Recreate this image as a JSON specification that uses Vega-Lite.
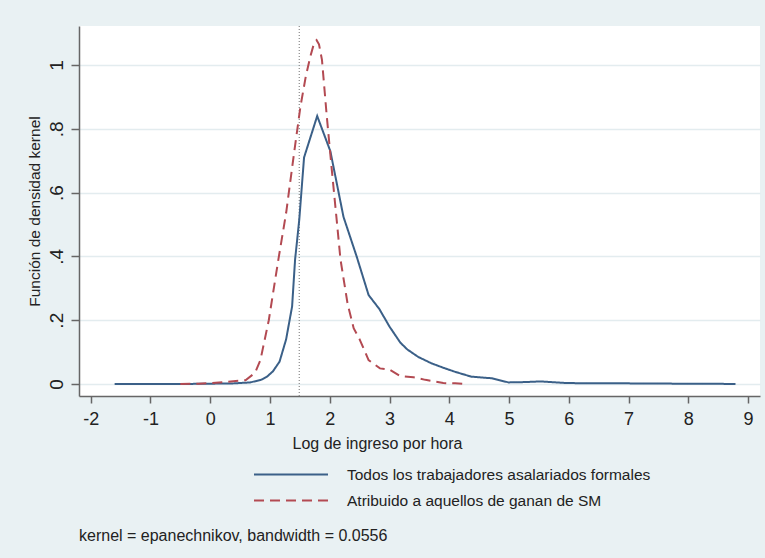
{
  "$schema": "https://vega.github.io/schema/vega-lite/v6.json",
  "width": 681,
  "height": 370,
  "autosize": {"type": "none"},
  "padding": {"left": 79, "top": 26, "right": 5, "bottom": 162},
  "background": "#e9f1f3",
  "config": {
    "view": {"fill": "white", "stroke": null},
    "font": "Liberation Sans",
    "axis": {
      "domainColor": "#666666",
      "domainWidth": 1.5,
      "tickColor": "#666666",
      "tickWidth": 1.5,
      "labelColor": "#222222",
      "titleColor": "#222222",
      "titleFontWeight": "normal",
      "labelFont": "Liberation Sans",
      "titleFont": "Liberation Sans"
    },
    "legend": {
      "orient": "none",
      "legendX": 174,
      "legendY": 435.5,
      "title": null,
      "symbolType": "stroke",
      "symbolSize": 5476,
      "symbolStrokeWidth": 2,
      "labelFontSize": 15.5,
      "labelFont": "Liberation Sans",
      "labelColor": "#222222",
      "labelOffset": 18,
      "labelLimit": 0,
      "clipHeight": 26,
      "rowPadding": 0,
      "padding": 0
    }
  },
  "title": {
    "text": "kernel = epanechnikov, bandwidth = 0.0556",
    "orient": "bottom",
    "anchor": "start",
    "frame": "group",
    "fontSize": 16,
    "fontWeight": "normal",
    "font": "Liberation Sans",
    "color": "#222222",
    "offset": 14
  },
  "datasets": {
    "densidades": [
      {"serie": "Todos los trabajadores asalariados formales", "x": -1.6, "y": 0},
      {"serie": "Todos los trabajadores asalariados formales", "x": -1.0, "y": 0},
      {"serie": "Todos los trabajadores asalariados formales", "x": -0.5, "y": 0},
      {"serie": "Todos los trabajadores asalariados formales", "x": 0.0, "y": 0.001},
      {"serie": "Todos los trabajadores asalariados formales", "x": 0.4, "y": 0.002},
      {"serie": "Todos los trabajadores asalariados formales", "x": 0.67, "y": 0.005},
      {"serie": "Todos los trabajadores asalariados formales", "x": 0.85, "y": 0.013},
      {"serie": "Todos los trabajadores asalariados formales", "x": 0.95, "y": 0.023},
      {"serie": "Todos los trabajadores asalariados formales", "x": 1.05, "y": 0.04},
      {"serie": "Todos los trabajadores asalariados formales", "x": 1.16, "y": 0.07},
      {"serie": "Todos los trabajadores asalariados formales", "x": 1.27, "y": 0.14},
      {"serie": "Todos los trabajadores asalariados formales", "x": 1.37, "y": 0.243},
      {"serie": "Todos los trabajadores asalariados formales", "x": 1.42, "y": 0.39},
      {"serie": "Todos los trabajadores asalariados formales", "x": 1.49, "y": 0.515},
      {"serie": "Todos los trabajadores asalariados formales", "x": 1.57, "y": 0.71},
      {"serie": "Todos los trabajadores asalariados formales", "x": 1.79, "y": 0.84},
      {"serie": "Todos los trabajadores asalariados formales", "x": 2.01, "y": 0.73},
      {"serie": "Todos los trabajadores asalariados formales", "x": 2.23, "y": 0.524},
      {"serie": "Todos los trabajadores asalariados formales", "x": 2.45, "y": 0.4},
      {"serie": "Todos los trabajadores asalariados formales", "x": 2.65, "y": 0.279},
      {"serie": "Todos los trabajadores asalariados formales", "x": 2.83, "y": 0.235},
      {"serie": "Todos los trabajadores asalariados formales", "x": 3.0, "y": 0.18},
      {"serie": "Todos los trabajadores asalariados formales", "x": 3.18, "y": 0.13},
      {"serie": "Todos los trabajadores asalariados formales", "x": 3.3, "y": 0.108},
      {"serie": "Todos los trabajadores asalariados formales", "x": 3.48, "y": 0.085},
      {"serie": "Todos los trabajadores asalariados formales", "x": 3.7, "y": 0.065},
      {"serie": "Todos los trabajadores asalariados formales", "x": 3.9, "y": 0.051},
      {"serie": "Todos los trabajadores asalariados formales", "x": 4.1, "y": 0.038},
      {"serie": "Todos los trabajadores asalariados formales", "x": 4.37, "y": 0.023},
      {"serie": "Todos los trabajadores asalariados formales", "x": 4.71, "y": 0.018},
      {"serie": "Todos los trabajadores asalariados formales", "x": 4.99, "y": 0.005},
      {"serie": "Todos los trabajadores asalariados formales", "x": 5.25, "y": 0.006},
      {"serie": "Todos los trabajadores asalariados formales", "x": 5.53, "y": 0.008},
      {"serie": "Todos los trabajadores asalariados formales", "x": 5.97, "y": 0.003},
      {"serie": "Todos los trabajadores asalariados formales", "x": 6.5, "y": 0.002},
      {"serie": "Todos los trabajadores asalariados formales", "x": 7.0, "y": 0.002},
      {"serie": "Todos los trabajadores asalariados formales", "x": 7.5, "y": 0.0015},
      {"serie": "Todos los trabajadores asalariados formales", "x": 7.87, "y": 0.001},
      {"serie": "Todos los trabajadores asalariados formales", "x": 8.3, "y": 0.001},
      {"serie": "Todos los trabajadores asalariados formales", "x": 8.79, "y": 0.0},
      {"serie": "Atribuido a aquellos de ganan de SM", "x": -0.5, "y": 0},
      {"serie": "Atribuido a aquellos de ganan de SM", "x": -0.2, "y": 0.001},
      {"serie": "Atribuido a aquellos de ganan de SM", "x": 0.0, "y": 0.003},
      {"serie": "Atribuido a aquellos de ganan de SM", "x": 0.3, "y": 0.007},
      {"serie": "Atribuido a aquellos de ganan de SM", "x": 0.59, "y": 0.012},
      {"serie": "Atribuido a aquellos de ganan de SM", "x": 0.75, "y": 0.035},
      {"serie": "Atribuido a aquellos de ganan de SM", "x": 0.84, "y": 0.075},
      {"serie": "Atribuido a aquellos de ganan de SM", "x": 0.98, "y": 0.2},
      {"serie": "Atribuido a aquellos de ganan de SM", "x": 1.14, "y": 0.39},
      {"serie": "Atribuido a aquellos de ganan de SM", "x": 1.27, "y": 0.536},
      {"serie": "Atribuido a aquellos de ganan de SM", "x": 1.4, "y": 0.72},
      {"serie": "Atribuido a aquellos de ganan de SM", "x": 1.51, "y": 0.87},
      {"serie": "Atribuido a aquellos de ganan de SM", "x": 1.6, "y": 0.965},
      {"serie": "Atribuido a aquellos de ganan de SM", "x": 1.68, "y": 1.03},
      {"serie": "Atribuido a aquellos de ganan de SM", "x": 1.74, "y": 1.07},
      {"serie": "Atribuido a aquellos de ganan de SM", "x": 1.78, "y": 1.078},
      {"serie": "Atribuido a aquellos de ganan de SM", "x": 1.82, "y": 1.065},
      {"serie": "Atribuido a aquellos de ganan de SM", "x": 1.87, "y": 1.016},
      {"serie": "Atribuido a aquellos de ganan de SM", "x": 1.95, "y": 0.84},
      {"serie": "Atribuido a aquellos de ganan de SM", "x": 2.03, "y": 0.68},
      {"serie": "Atribuido a aquellos de ganan de SM", "x": 2.11, "y": 0.526},
      {"serie": "Atribuido a aquellos de ganan de SM", "x": 2.18, "y": 0.39},
      {"serie": "Atribuido a aquellos de ganan de SM", "x": 2.3, "y": 0.25},
      {"serie": "Atribuido a aquellos de ganan de SM", "x": 2.4, "y": 0.175},
      {"serie": "Atribuido a aquellos de ganan de SM", "x": 2.5, "y": 0.14},
      {"serie": "Atribuido a aquellos de ganan de SM", "x": 2.65, "y": 0.075},
      {"serie": "Atribuido a aquellos de ganan de SM", "x": 2.84, "y": 0.049},
      {"serie": "Atribuido a aquellos de ganan de SM", "x": 3.0, "y": 0.045},
      {"serie": "Atribuido a aquellos de ganan de SM", "x": 3.18, "y": 0.025},
      {"serie": "Atribuido a aquellos de ganan de SM", "x": 3.4, "y": 0.021},
      {"serie": "Atribuido a aquellos de ganan de SM", "x": 3.6, "y": 0.013},
      {"serie": "Atribuido a aquellos de ganan de SM", "x": 3.9, "y": 0.003},
      {"serie": "Atribuido a aquellos de ganan de SM", "x": 4.1, "y": 0.002},
      {"serie": "Atribuido a aquellos de ganan de SM", "x": 4.27, "y": 0.0}
    ],
    "corte": [
      {"x": 1.49}
    ]
  },
  "encoding": {
    "x": {
      "field": "x",
      "type": "quantitative",
      "scale": {"domain": [-2.196, 9.2], "nice": false, "zero": false},
      "axis": {
        "values": [-2, -1, 0, 1, 2, 3, 4, 5, 6, 7, 8, 9],
        "title": "Log de ingreso por hora",
        "grid": false,
        "tickSize": 7,
        "labelPadding": 7,
        "labelFontSize": 18,
        "labelExpr": "replace(format(datum.value, 'd'), '−', '-')",
        "titleX": 298,
        "titleY": 52,
        "titleAlign": "center",
        "titleBaseline": "alphabetic",
        "titleFontSize": 16
      }
    }
  },
  "layer": [
    {
      "data": {"name": "corte"},
      "mark": {"type": "rule", "strokeDash": [1, 2], "color": "#8a8a8a", "strokeWidth": 1.2}
    },
    {
      "data": {"name": "densidades"},
      "mark": {"type": "line", "strokeWidth": 2},
      "encoding": {
        "y": {
          "field": "y",
          "type": "quantitative",
          "scale": {"domain": [-0.0376, 1.1223], "nice": false, "zero": false},
          "axis": {
            "values": [0, 0.2, 0.4, 0.6, 0.8, 1],
            "title": "Función de densidad kernel",
            "grid": true,
            "gridColor": "#e3ecef",
            "gridWidth": 1.5,
            "tickSize": 8,
            "labelAngle": 270,
            "labelAlign": "center",
            "labelBaseline": "middle",
            "labelPadding": 14.5,
            "labelFontSize": 19,
            "labelExpr": "datum.value == 0 ? '0' : datum.value == 1 ? '1' : replace(format(datum.value, '.1f'), '0.', '.')",
            "titleX": -45,
            "titleY": 185,
            "titleAngle": 270,
            "titleAlign": "center",
            "titleBaseline": "middle",
            "titleFontSize": 15.5
          }
        },
        "color": {
          "field": "serie",
          "type": "nominal",
          "scale": {
            "domain": ["Todos los trabajadores asalariados formales", "Atribuido a aquellos de ganan de SM"],
            "range": ["#3b6088", "#b34a52"]
          }
        },
        "strokeDash": {
          "field": "serie",
          "type": "nominal",
          "scale": {
            "domain": ["Todos los trabajadores asalariados formales", "Atribuido a aquellos de ganan de SM"],
            "range": [[1, 0], [10, 6]]
          }
        }
      }
    }
  ]
}
